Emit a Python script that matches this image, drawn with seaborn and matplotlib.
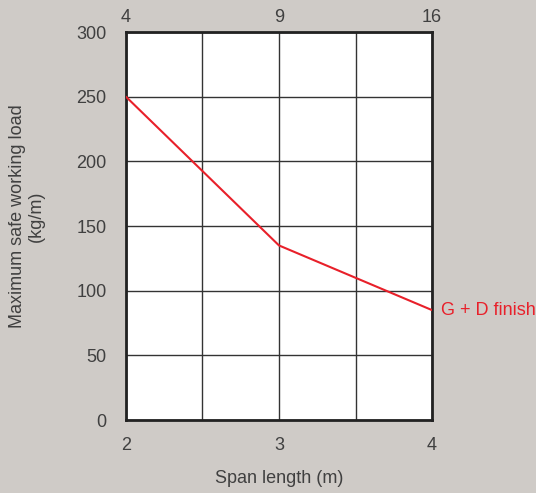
import matplotlib
matplotlib.use("Agg")
import matplotlib.pyplot as plt
import seaborn as sns
import pandas as pd

span_length = [2, 3, 4]
max_load = [250, 135, 85]
top_labels = ["4", "9", "16"]
series_name = "G + D finish"

sns.set_style("white")
plt.rcParams['font.family'] = ['Liberation Sans', 'DejaVu Sans']

bg = "#cfcbc7"
txt = "#404040"
red = "#e8202a"
fs = 13

df = pd.DataFrame({"span": span_length, "load": max_load})

fig = plt.figure(figsize=(5.36, 4.93), dpi=100, facecolor=bg)
ax = fig.add_axes([0.235, 0.148, 0.571, 0.787])
ax.set_facecolor("white")

sns.lineplot(data=df, x="span", y="load", color=red, linewidth=1.5, ax=ax, zorder=3)

ax.set_xlim(2, 4)
ax.set_ylim(0, 300)
ax.set_xticks([2, 3, 4])
ax.set_xticks([2.5, 3.5], minor=True)
ax.set_yticks(range(0, 301, 50))
ax.grid(True, which="both", color="#333333", linewidth=1.0)
ax.tick_params(axis="both", which="both", length=0, labelsize=fs, labelcolor=txt)
ax.tick_params(axis="x", pad=12)
ax.tick_params(axis="y", pad=14)
for s in ax.spines.values():
    s.set_visible(True)
    s.set_color("#222222")
    s.set_linewidth(2)

ax2 = ax.secondary_xaxis("top")
ax2.set_xticks(span_length)
ax2.set_xticklabels(top_labels)
ax2.tick_params(length=0, labelsize=fs, labelcolor=txt, pad=4)
for s in ax2.spines.values():
    s.set_visible(False)

ax.set_xlabel("Span length (m)", fontsize=fs, color=txt, labelpad=12)
ax.set_ylabel("")
fig.text(27 / 536, 1 - 216 / 493, "Maximum safe working load\n(kg/m)", fontsize=fs,
         color=txt, rotation=90, ha="center", va="center", linespacing=1.2,
         multialignment="center")

ax.text(4.06, max_load[-1], series_name, color=red, fontsize=fs, va="center", ha="left",
        clip_on=False)

fig.savefig("out.png", dpi=100, facecolor=bg)
